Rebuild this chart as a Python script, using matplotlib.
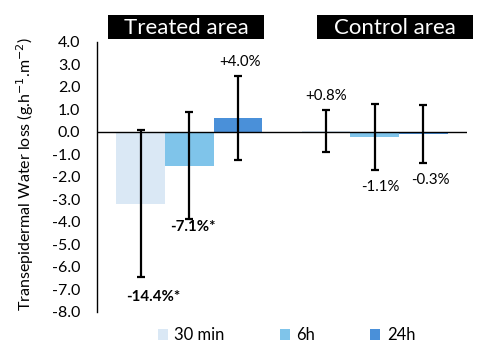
import numpy as np
import matplotlib.pyplot as plt
from matplotlib.patches import Rectangle

plt.rcParams['font.family'] = ['Lato', 'DejaVu Sans']

groups = ['Treated area', 'Control area']
times = ['30 min', '6h', '24h']
colors = ['#DAE8F5', '#7FC4EA', '#4A90D9']

# mean change and error per time point, one row per group
values = np.array([[-3.2, -1.52, 0.6],
                   [0.02, -0.24, -0.12]])
errors = np.array([[3.28, 2.37, 1.87],
                   [0.94, 1.47, 1.30]])
labels = [['-14.4%*', '-7.1%*', '+4.0%'],
          ['+0.8%', '-1.1%', '-0.3%']]
bold = [[True, True, False],
        [False, False, False]]

# label placement relative to error bar ends (layout only)
label_dy = [[-0.86, -0.35, 0.62],
            [0.63, -0.75, -0.75]]
label_dx = [[0.065, 0.02, 0.01],
            [0.0, 0.03, 0.04]]

fig = plt.figure(figsize=(4.8, 3.55), dpi=100)
ax = fig.add_axes([0.202, 0.1225, 0.771, 0.7605])

x = np.arange(len(groups))
width = 0.263
for i, t in enumerate(times):
    xpos = x + (i - 1) * width
    ax.bar(xpos, values[:, i], width, color=colors[i], label=t, zorder=2)
    ax.errorbar(xpos, values[:, i], yerr=errors[:, i], fmt='none',
                ecolor='black', elinewidth=1.6, capsize=3, capthick=1.6, zorder=4)
    for g in range(len(groups)):
        v = values[g, i]
        e = errors[g, i]
        dy = label_dy[g][i]
        y = v + e + dy if dy > 0 else v - e + dy
        ax.text(xpos[g] + label_dx[g][i], y, labels[g][i], ha='center', va='center',
                fontsize=10.8, fontweight='bold' if bold[g][i] else 'normal')

ax.axhline(0, color='black', lw=1, zorder=3)
ax.set_xlim(-0.5, 1.5)
ax.set_ylim(-8, 4)
ax.set_yticks(np.arange(-8, 4.1, 1))
ax.set_yticklabels([f'{v:.1f}' for v in np.arange(-8, 4.1, 1)], fontsize=11.5)
ax.tick_params(axis='y', length=0, pad=12)
ax.set_xticks([])
for s in ['top', 'right', 'bottom']:
    ax.spines[s].set_visible(False)
ax.spines['left'].set_linewidth(1)

fig.text(0.053, 0.51, 'Transepidermal Water loss (g.h$^{-1}$.m$^{-2}$)',
         rotation=90, ha='center', va='center', fontsize=11.5)

# black header boxes
for gx0, gx1, name in [(108, 264, groups[0]), (317, 473, groups[1])]:
    fig.patches.append(Rectangle((gx0 / 480, 1 - 39 / 355), (gx1 - gx0) / 480, 24 / 355,
                                 transform=fig.transFigure, facecolor='black',
                                 edgecolor='none'))
    fig.text((gx0 + gx1) / 2 / 480, 1 - 27.5 / 355, name, color='white',
             ha='center', va='center', fontsize=16)

fig.legend(loc='center', bbox_to_anchor=(0.597, 0.056), ncol=3, frameon=False,
           handlelength=0.6, handleheight=0.6, handletextpad=0.4,
           columnspacing=3.3, fontsize=12)

fig.savefig('out.png', dpi=100)
